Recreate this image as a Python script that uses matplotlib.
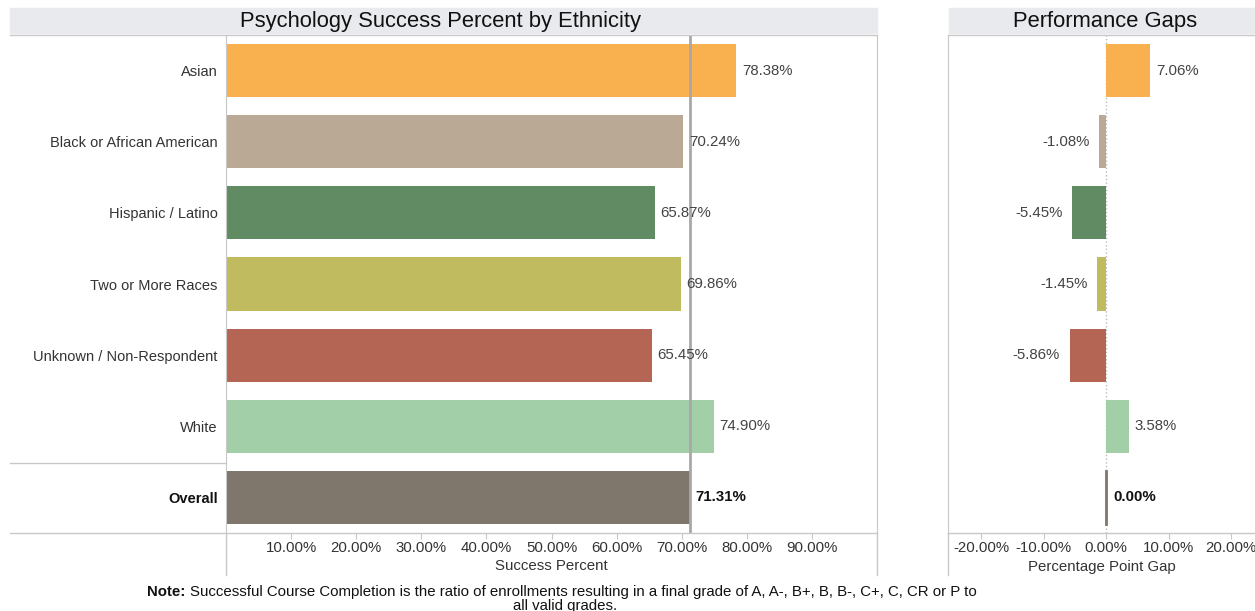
import matplotlib.pyplot as plt
from matplotlib.patches import Rectangle
from matplotlib.lines import Line2D

plt.rcParams['font.family'] = ['Liberation Sans', 'DejaVu Sans']

# data
groups = ['Asian', 'Black or African American', 'Hispanic / Latino',
          'Two or More Races', 'Unknown / Non-Respondent', 'White', 'Overall']
success = [78.38, 70.24, 65.87, 69.86, 65.45, 74.90, 71.31]
gaps = [7.06, -1.08, -5.45, -1.45, -5.86, 3.58, 0.00]
colors = ['#F9B04F', '#BAA995', '#618B63', '#C1BB60', '#B56553', '#A2CEA8', '#7F766C']
success_ticks = [10, 20, 30, 40, 50, 60, 70, 80, 90]
gap_ticks = [-20, -10, 0, 10, 20]
overall = success[-1]

W, H = 1255, 611
fig = plt.figure(figsize=(W / 100, H / 100), dpi=100)


def fx(px):
    return px / W


def fy(py):
    return 1 - py / H


grid_c = '#C8C8C8'
band_c = '#E9EAEE'
txt_c = '#333333'
fs = 10.8

# title bands
fig.patches.append(Rectangle((fx(10), fy(33)), fx(877) - fx(10), fy(8) - fy(33),
                             transform=fig.transFigure, color=band_c, zorder=0))
fig.patches.append(Rectangle((fx(949), fy(33)), fx(1255) - fx(949), fy(8) - fy(33),
                             transform=fig.transFigure, color=band_c, zorder=0))
fig.text(fx(441), fy(21), 'Psychology Success Percent by Ethnicity', ha='center', va='center',
         fontsize=15.8, color='#111111')
fig.text(fx(1105), fy(21), 'Performance Gaps', ha='center', va='center',
         fontsize=15.8, color='#111111')

top, bottom = 35, 533
n = len(groups)
ypos = list(range(n))

# left panel
ax = fig.add_axes([fx(226), fy(bottom), fx(877) - fx(226), fy(top) - fy(bottom)])
ax.barh(ypos, success, height=0.745, color=colors, zorder=2)
ax.axvline(overall, color='#A8A8A8', lw=2, zorder=3)
ax.set_xlim(0, 100)
ax.set_ylim(n - 0.5, -0.5)
ax.set_yticks(ypos)
ax.set_yticklabels(groups, fontsize=10.5)
ax.get_yticklabels()[-1].set_fontweight('bold')
ax.get_yticklabels()[-1].set_color('#111111')
for t in ax.get_yticklabels()[:-1]:
    t.set_color(txt_c)
ax.tick_params(axis='y', length=0, pad=6)
ax.set_xticks(success_ticks)
ax.set_xticklabels(['%.2f%%' % v for v in success_ticks], fontsize=fs, color=txt_c)
ax.tick_params(axis='x', length=4, color=grid_c, pad=2)
ax.set_xlabel('Success Percent', fontsize=fs, color=txt_c, labelpad=3)
for s in ['top', 'bottom']:
    ax.spines[s].set_visible(False)
for s in ['left', 'right']:
    ax.spines[s].set_color(grid_c)
for i, v in enumerate(success):
    bold = i == n - 1
    ax.annotate('%.2f%%' % v, (v, i), xytext=(4, 0), textcoords='offset points',
                va='center', ha='left', fontsize=fs,
                color='#111111' if bold else '#444444',
                fontweight='bold' if bold else 'normal', zorder=4)

# right panel
ax2 = fig.add_axes([fx(948), fy(bottom), fx(1255) - fx(948), fy(top) - fy(bottom)])
ax2.barh(ypos, gaps, height=0.745, color=colors, zorder=2)
ax2.axvline(0, color='#BBBBBB', lw=1, ls=':', zorder=1)
ax2.set_xlim(-25.3, 23.8)
ax2.set_ylim(n - 0.5, -0.5)
ax2.set_yticks([])
ax2.set_xticks(gap_ticks)
ax2.set_xticklabels(['%.2f%%' % v for v in gap_ticks], fontsize=fs, color=txt_c)
ax2.tick_params(axis='x', length=4, color=grid_c, pad=2)
ax2.set_xlabel('Percentage Point Gap', fontsize=fs, color=txt_c, labelpad=3)
for s in ['top', 'bottom', 'right']:
    ax2.spines[s].set_visible(False)
ax2.spines['left'].set_color(grid_c)
for i, v in enumerate(gaps):
    bold = i == n - 1
    if v < 0:
        off, ha = -7, 'right'
    else:
        off, ha = 4, 'left'
    if bold:
        ax2.plot([0, 0], [i - 0.37, i + 0.37], color=colors[i], lw=2, zorder=3)
        off = 5
    ax2.annotate('%.2f%%' % v, (v, i), xytext=(off, 0), textcoords='offset points',
                 va='center', ha=ha, fontsize=fs,
                 color='#111111' if bold else '#444444',
                 fontweight='bold' if bold else 'normal')

# frame lines around panels
lines = [
    ((10, 877), (top, top)),
    ((10, 877), (bottom, bottom)),
    ((10, 226), (463, 463)),
    ((948, 1255), (top, top)),
    ((948, 1255), (bottom, bottom)),
    ((226, 226), (bottom, 575)),
    ((877, 877), (bottom, 575)),
    ((948, 948), (bottom, 575)),
]
for xs, ys in lines:
    fig.add_artist(Line2D([fx(xs[0]), fx(xs[1])], [fy(ys[0]), fy(ys[1])],
                          transform=fig.transFigure, color=grid_c, lw=1))

# footnote
fig.text(fx(147), fy(592), 'Note:', ha='left', va='center', fontsize=fs,
         fontweight='bold', color='#111111')
fig.text(fx(190), fy(592),
         'Successful Course Completion is the ratio of enrollments resulting in a final grade of '
         'A, A-, B+, B, B-, C+, C, CR or P to',
         ha='left', va='center', fontsize=fs, color='#111111')
fig.text(fx(565), fy(606), 'all valid grades.', ha='center', va='center',
         fontsize=fs, color='#111111')

fig.savefig('out.png', dpi=100)
